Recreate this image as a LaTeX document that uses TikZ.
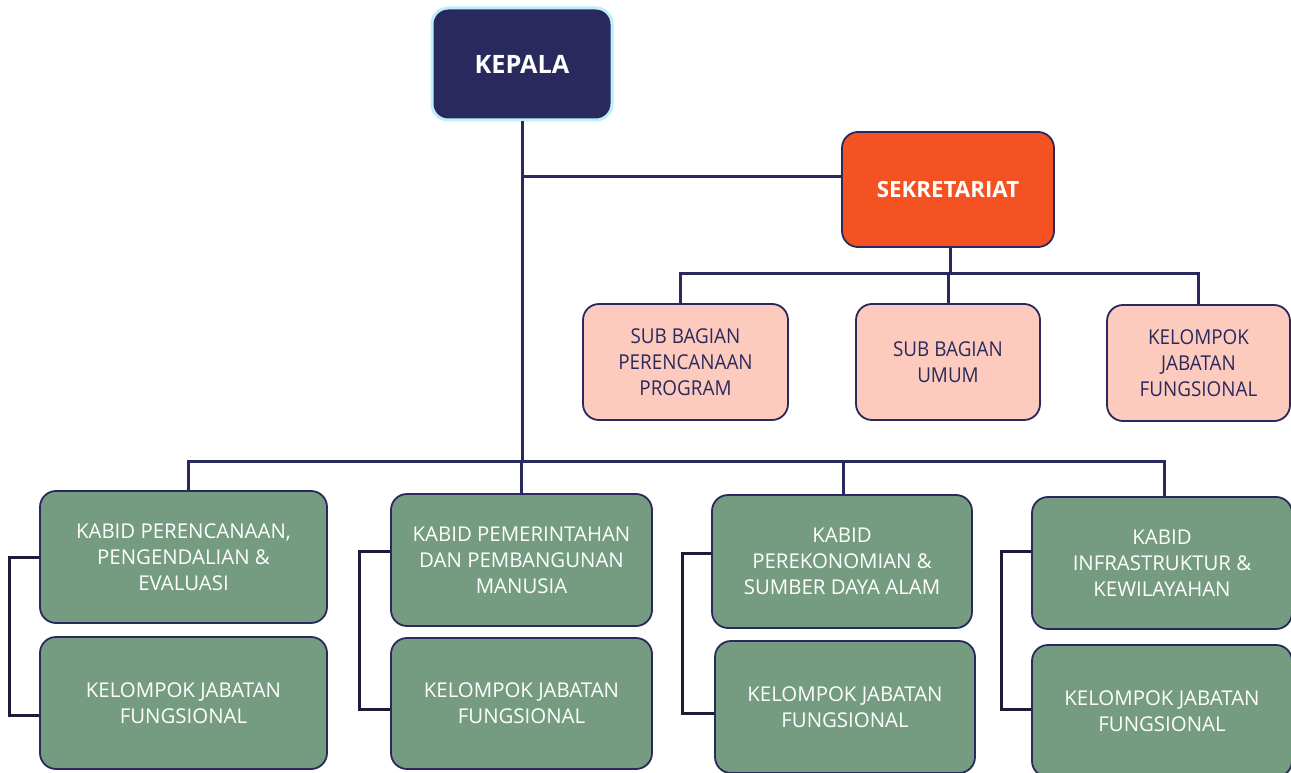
\documentclass[tikz,border=0pt]{standalone}
\usepackage{fontspec}
\setmainfont{Open Sans}
\newfontfamily\narrowfont[FakeStretch=0.92]{Open Sans}
\usetikzlibrary{calc}
\definecolor{navy}{HTML}{2A295E}
\definecolor{cyanedge}{HTML}{BDEFF8}
\definecolor{orangeS}{HTML}{F55223}
\definecolor{peach}{HTML}{FDCBBD}
\definecolor{greenK}{HTML}{759C80}
\definecolor{bracket}{HTML}{1C1C38}
\tikzset{
  base/.style={rounded corners=16pt, draw=navy, line width=1.8pt, align=center, inner sep=0pt},
  head/.style={base, fill=navy, draw=cyanedge, line width=3pt, text=white, font=\fontsize{25.3}{29}\selectfont\bfseries},
  sek/.style={base, fill=orangeS, text=white, font=\fontsize{22.3}{26}\selectfont\bfseries},
  subbox/.style={base, fill=peach, text=navy, font=\narrowfont\fontsize{20.5}{26}\selectfont},
  kabid/.style={base, fill=greenK, text=white, font=\fontsize{20.4}{26}\selectfont},
  link/.style={draw=navy, line width=3pt},
  side/.style={draw=bracket, line width=3pt},
}
\begin{document}
\begin{tikzpicture}[x=1pt,y=-1pt]
\useasboundingbox (0,0) rectangle (1291,773);
\clip (0,0) rectangle (1291,773);
\fill[white] (0,0) rectangle (1291,773);

% nodes
\node[head, minimum width=180pt, minimum height=112pt] (kepala) at (522,64) {KEPALA};
\node[sek, minimum width=212pt, minimum height=115pt] (sek) at (948,189.5) {SEKRETARIAT};

\node[subbox, minimum width=205pt, minimum height=116pt] (sub1) at (685.5,362) {SUB BAGIAN\\PERENCANAAN\\PROGRAM};
\node[subbox, minimum width=184pt, minimum height=116pt] (sub2) at (948,362) {SUB BAGIAN\\UMUM};
\node[subbox, minimum width=183pt, minimum height=116pt] (sub3) at (1198.5,363) {KELOMPOK\\JABATAN\\FUNGSIONAL};

\node[kabid, minimum width=287pt, minimum height=132pt] (k1) at (183.5,557) {KABID PERENCANAAN,\\PENGENDALIAN \&\\EVALUASI};
\node[kabid, minimum width=287pt, minimum height=132pt] (f1) at (183.5,703) {KELOMPOK JABATAN\\FUNGSIONAL};
\node[kabid, minimum width=261pt, minimum height=132pt] (k2) at (521.5,560) {KABID PEMERINTAHAN\\DAN PEMBANGUNAN\\MANUSIA};
\node[kabid, minimum width=261pt, minimum height=131pt] (f2) at (521.5,703.5) {KELOMPOK JABATAN\\FUNGSIONAL};
\node[kabid, minimum width=260pt, minimum height=133pt] (k3) at (842,561.5) {KABID\\PEREKONOMIAN \&\\SUMBER DAYA ALAM};
\node[kabid, minimum width=260pt, minimum height=132pt] (f3) at (845,707) {KELOMPOK JABATAN\\FUNGSIONAL};
\node[kabid, minimum width=260pt, minimum height=132pt] (k4) at (1162,563) {KABID\\INFRASTRUKTUR \&\\KEWILAYAHAN};
\node[kabid, minimum width=260pt, minimum height=132pt] (f4) at (1162,711) {KELOMPOK JABATAN\\FUNGSIONAL};

% connector coordinates
\coordinate (jS) at (522,177);
\coordinate (sbus) at (950,273);
\coordinate (bbus) at (522,461);

% trunk and secretariat branch
\draw[link] (kepala.south) -- (bbus);
\draw[link] (jS) -- (jS -| sek.west);

% secretariat to sub units
\draw[link] (sek.south -| sbus) -- (sbus);
\draw[link] ($(sub1.north)+(-5,0)$) |- (sub3.north |- sbus) -- (sub3.north);
\draw[link] (sub2.north) -- (sub2.north |- sbus);

% bottom bus
\draw[link] ($(k1.north)+(4.5,0)$) |- ($(k4.north |- bbus)+(2,0)$) -- ($(k4.north)+(2,0)$);
\draw[link] (k2.north) -- (k2.north |- bbus);
\draw[link] ($(k3.north)+(1,0)$) -- ($(k3.north |- bbus)+(1,0)$);

% side brackets
\draw[side] (k1.west) -- ++(-30,0) |- ($(f1.west)+(0,12)$);
\draw[side] ($(k2.west)+(0,-9)$) -- ++(-31,0) |- ($(f2.west)+(0,5.5)$);
\draw[side] ($(k3.west)+(0,-8.5)$) -- ++(-29,0) |- ($(f3.west)+(0,6)$);
\draw[side] ($(k4.west)+(0,-12)$) -- ++(-30,0) |- ($(f4.west)+(0,-2)$);
\end{tikzpicture}
\end{document}
